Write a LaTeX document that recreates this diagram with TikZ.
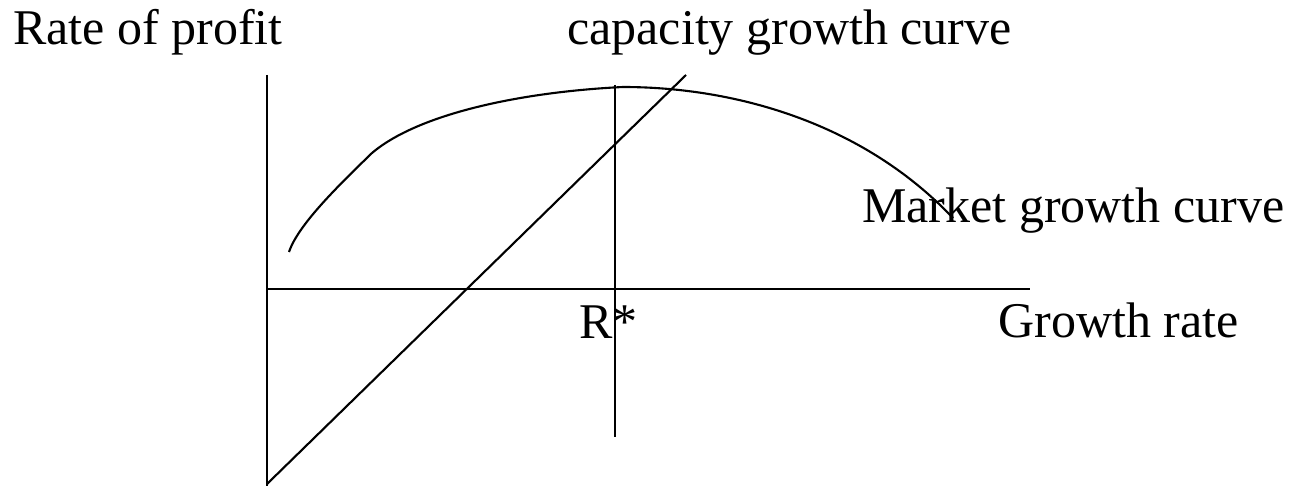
\documentclass[tikz,border=0pt]{standalone}
\usepackage{fontspec}
\setmainfont{Liberation Serif}
\usetikzlibrary{positioning}

\begin{document}
\begin{tikzpicture}[
  x=0.02cm, y=-0.02cm,
  axis/.style={line width=1.2pt},
  curve/.style={line width=1.2pt},
  words/.style={inner sep=0pt, anchor=base west, font=\fontsize{28.45}{34}\selectfont}
]
\useasboundingbox (0,0) rectangle (1297,486);

\node[words] (rate) at (13,45) {Rate of profit};
\node[words] (capacity) at (567,45) {capacity growth curve};
\node[words] (market) at (862,222) {Market growth curve};
\node[words] (growth) at (998,337) {Growth rate};
\node[words] (rstar) at (579,338) {R*};

\coordinate (ytop) at (267,75);
\coordinate (ybot) at (267,486);
\coordinate (xorg) at (267,289);
\coordinate (xend) at (1030,289);
\coordinate (rtop) at (615,85);
\coordinate (rbot) at (615,437);
\coordinate (cbot) at (267,484);
\coordinate (ctop) at (686,75);
\coordinate (mstart) at (289,252);
\coordinate (mknee) at (372,153);
\coordinate (mpeak) at (623,87);
\coordinate (mend) at (953,218);

% axes and the R* line
\draw[axis] (ytop) -- (ybot);
\draw[axis] (xorg) -- (xend);
\draw[axis] (rtop) -- (rbot);

% capacity growth curve
\draw[curve] (cbot) -- (ctop);

% market growth curve
\draw[curve] (mstart) .. controls (298,225) and (338,186) .. (mknee)
  .. controls (418,114) and (520,92) .. (mpeak)
  .. controls (730,87) and (860,120) .. (mend);
\end{tikzpicture}
\end{document}
